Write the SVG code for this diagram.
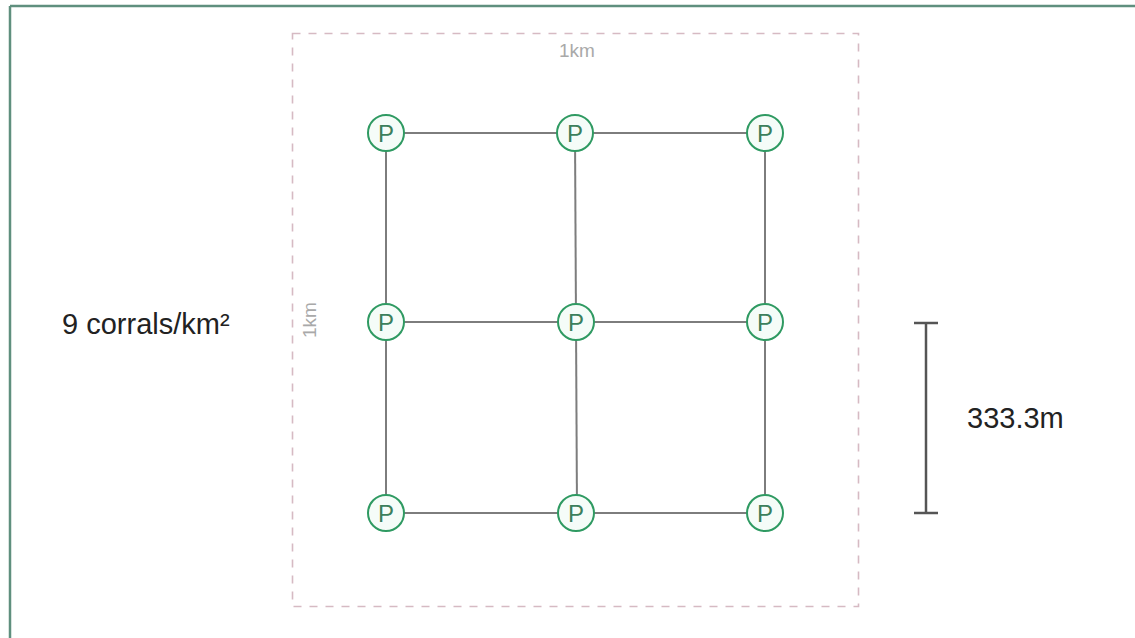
<svg xmlns="http://www.w3.org/2000/svg" width="1135" height="638" viewBox="0 0 1135 638">
<style>
.edge{stroke:#7d7d7d;stroke-width:2;fill:none}
.node circle{fill:#f5fcf8;stroke:#2f9a62;stroke-width:2}
.node text{font-family:"Liberation Sans",Arial,sans-serif;font-size:24px;fill:#3c7f5c;text-anchor:middle}
.dim{font-family:"Liberation Sans",Arial,sans-serif;font-size:19px;fill:#a9a9a9;text-anchor:middle}
.lbl{font-family:"Liberation Sans",Arial,sans-serif;font-size:29px;fill:#222}
</style>
<rect width="1135" height="638" fill="#ffffff"/>
<line x1="10" y1="6" x2="1135" y2="6" stroke="#5f8f7e" stroke-width="2.5"/>
<line x1="10" y1="6" x2="10" y2="638" stroke="#5f8f7e" stroke-width="2.5"/>
<rect x="292.5" y="33.5" width="566" height="573" fill="none" stroke="#d6bac3" stroke-width="1.6" stroke-dasharray="8,8"/>
<text class="dim" x="577" y="57">1km</text>
<text class="dim" transform="translate(316,320) rotate(-90)">1km</text>
<g id="connectors">
<line class="edge" x1="386" y1="133" x2="765" y2="133"/>
<line class="edge" x1="386" y1="322" x2="765" y2="322"/>
<line class="edge" x1="386" y1="513" x2="765" y2="513"/>
<line class="edge" x1="386" y1="133" x2="386" y2="513"/>
<line class="edge" x1="575" y1="133" x2="577" y2="513"/>
<line class="edge" x1="765" y1="133" x2="765" y2="513"/>
</g>
<g id="p11" class="node"><circle cx="386" cy="133" r="18"/><text x="386" y="141.5">P</text></g>
<g id="p12" class="node"><circle cx="575" cy="133" r="18"/><text x="575" y="141.5">P</text></g>
<g id="p13" class="node"><circle cx="765" cy="133" r="18"/><text x="765" y="141.5">P</text></g>
<g id="p21" class="node"><circle cx="386" cy="322" r="18"/><text x="386" y="330.5">P</text></g>
<g id="p22" class="node"><circle cx="576" cy="322" r="18"/><text x="576" y="330.5">P</text></g>
<g id="p23" class="node"><circle cx="765" cy="322" r="18"/><text x="765" y="330.5">P</text></g>
<g id="p31" class="node"><circle cx="386" cy="513" r="18"/><text x="386" y="521.5">P</text></g>
<g id="p32" class="node"><circle cx="576" cy="513" r="18"/><text x="576" y="521.5">P</text></g>
<g id="p33" class="node"><circle cx="765" cy="513" r="18"/><text x="765" y="521.5">P</text></g>
<text class="lbl" x="62" y="334">9 corrals/km²</text>
<g id="scale" stroke="#555" stroke-width="2.5">
<line x1="926" y1="323" x2="926" y2="513"/>
<line x1="914" y1="323" x2="938" y2="323"/>
<line x1="914" y1="513" x2="938" y2="513"/>
</g>
<text class="lbl" x="967" y="428">333.3m</text>
</svg>
